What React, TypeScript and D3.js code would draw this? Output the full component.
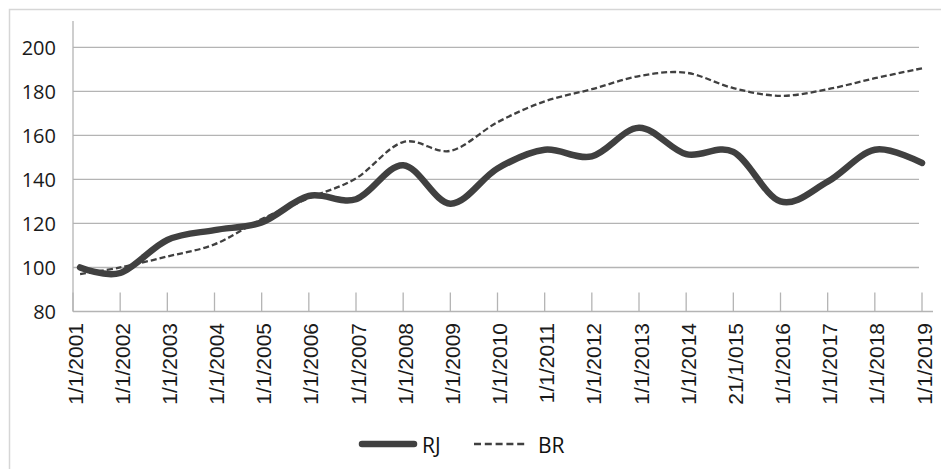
import { useRef, useEffect } from "react";
import * as d3 from "d3";

// x positions in years (first reading sits a little after the 2001 tick)
const years = [2001.15, 2002, 2003, 2004, 2005, 2006, 2007, 2008, 2009, 2010, 2011, 2012, 2013, 2014, 2015, 2016, 2017, 2018, 2019];
const rj = [100, 97.5, 112.5, 117, 120.5, 132.5, 131, 146.5, 129, 145, 153.5, 150.5, 163.5, 151.5, 152.5, 130, 139, 153.5, 147.5];
const br = [97, 100, 105, 110.5, 122, 131.5, 140.5, 157, 153, 166, 175.5, 181, 187, 188.5, 181.5, 178, 181, 186, 190.5];

const tickYears = d3.range(2001, 2020);
const tickLabels = [
  "1/1/2001", "1/1/2002", "1/1/2003", "1/1/2004", "1/1/2005", "1/1/2006", "1/1/2007",
  "1/1/2008", "1/1/2009", "1/1/2010", "1/1/2011", "1/1/2012", "1/1/2013", "1/1/2014",
  "21/1/015", "1/1/2016", "1/1/2017", "1/1/2018", "1/1/2019",
];
const yTicks = [80, 100, 120, 140, 160, 180, 200];

const W = 941;
const H = 469;
const ink = "#404040";

function LineChart() {
  const svgRef = useRef(null);

  useEffect(() => {
    const svg = d3.select(svgRef.current);
    svg.selectAll("*").remove();

    const x = d3.scaleLinear().domain([2001, 2019]).range([73, 922]);
    const y = d3.scaleLinear().domain([80, 212]).range([311.5, 21]);

    // outer frame
    svg
      .append("rect")
      .attr("x", 9.5)
      .attr("y", 9.5)
      .attr("width", W)
      .attr("height", H)
      .attr("fill", "none")
      .attr("stroke", "#d6d6d6")
      .attr("stroke-width", 1.5);

    // gridlines
    svg
      .selectAll(".grid")
      .data(yTicks.slice(1))
      .join("line")
      .attr("x1", x(2001))
      .attr("x2", 919)
      .attr("y1", (d) => y(d))
      .attr("y2", (d) => y(d))
      .attr("stroke", "#b4b4b4")
      .attr("stroke-width", 1.3);

    // y axis line
    svg
      .append("line")
      .attr("x1", x(2001))
      .attr("x2", x(2001))
      .attr("y1", y(212))
      .attr("y2", y(80))
      .attr("stroke", "#b4b4b4")
      .attr("stroke-width", 1.3);

    // x axis line
    svg
      .append("line")
      .attr("x1", x(2001))
      .attr("x2", 933)
      .attr("y1", y(80))
      .attr("y2", y(80))
      .attr("stroke", "#b4b4b4")
      .attr("stroke-width", 1.3);

    // tick marks going up into the plot
    svg
      .selectAll(".xtick")
      .data(tickYears)
      .join("line")
      .attr("x1", (d) => x(d))
      .attr("x2", (d) => x(d))
      .attr("y1", y(80))
      .attr("y2", y(80) - 19)
      .attr("stroke", "#b4b4b4")
      .attr("stroke-width", 1.3);

    // y labels
    svg
      .selectAll(".ylab")
      .data(yTicks)
      .join("text")
      .attr("x", 56)
      .attr("y", (d) => y(d))
      .attr("dy", "0.36em")
      .attr("text-anchor", "end")
      .attr("font-family", "'Open Sans', sans-serif")
      .attr("font-size", 20)
      .attr("fill", "#1a1a1a")
      .text((d) => d);

    // x labels, rotated
    svg
      .selectAll(".xlab")
      .data(tickYears)
      .join("text")
      .attr("transform", (d) => `translate(${x(d) + 2},${323}) rotate(-90)`)
      .attr("dy", "0.36em")
      .attr("text-anchor", "end")
      .attr("font-family", "'Liberation Sans', Arial, sans-serif")
      .attr("font-size", 21)
      .attr("fill", "#1a1a1a")
      .text((d, i) => tickLabels[i]);

    const line = (vals) =>
      d3
        .line()
        .x((d, i) => x(years[i]))
        .y((d) => y(d))
        .curve(d3.curveCardinal.tension(0))(vals);

    // BR series
    svg
      .append("path")
      .attr("d", line(br))
      .attr("fill", "none")
      .attr("stroke", ink)
      .attr("stroke-width", 2.3)
      .attr("stroke-dasharray", "6,3");

    // RJ series
    svg
      .append("path")
      .attr("d", line(rj))
      .attr("fill", "none")
      .attr("stroke", ink)
      .attr("stroke-width", 6.5)
      .attr("stroke-linecap", "round")
      .attr("stroke-linejoin", "round");

    // legend
    const leg = svg.append("g");
    leg
      .append("line")
      .attr("x1", 362)
      .attr("x2", 414)
      .attr("y1", 444)
      .attr("y2", 444)
      .attr("stroke", ink)
      .attr("stroke-width", 6.5)
      .attr("stroke-linecap", "round");
    leg
      .append("text")
      .attr("x", 422)
      .attr("y", 452.5)
      .attr("font-family", "'Open Sans', sans-serif")
      .attr("font-size", 21)
      .attr("fill", "#111")
      .text("RJ");
    leg
      .append("line")
      .attr("x1", 474)
      .attr("x2", 525)
      .attr("y1", 444)
      .attr("y2", 444)
      .attr("stroke", ink)
      .attr("stroke-width", 2.3)
      .attr("stroke-dasharray", "7,3.8");
    leg
      .append("text")
      .attr("x", 538)
      .attr("y", 452.5)
      .attr("font-family", "'Open Sans', sans-serif")
      .attr("font-size", 21)
      .attr("fill", "#111")
      .text("BR");
  }, []);

  return <svg ref={svgRef} width={W} height={H} style={{ display: "block" }} />;
}

export default function App() {
  return (
    <div style={{ position: "absolute", left: 0, top: 0, background: "#fff" }}>
      <LineChart />
    </div>
  );
}
